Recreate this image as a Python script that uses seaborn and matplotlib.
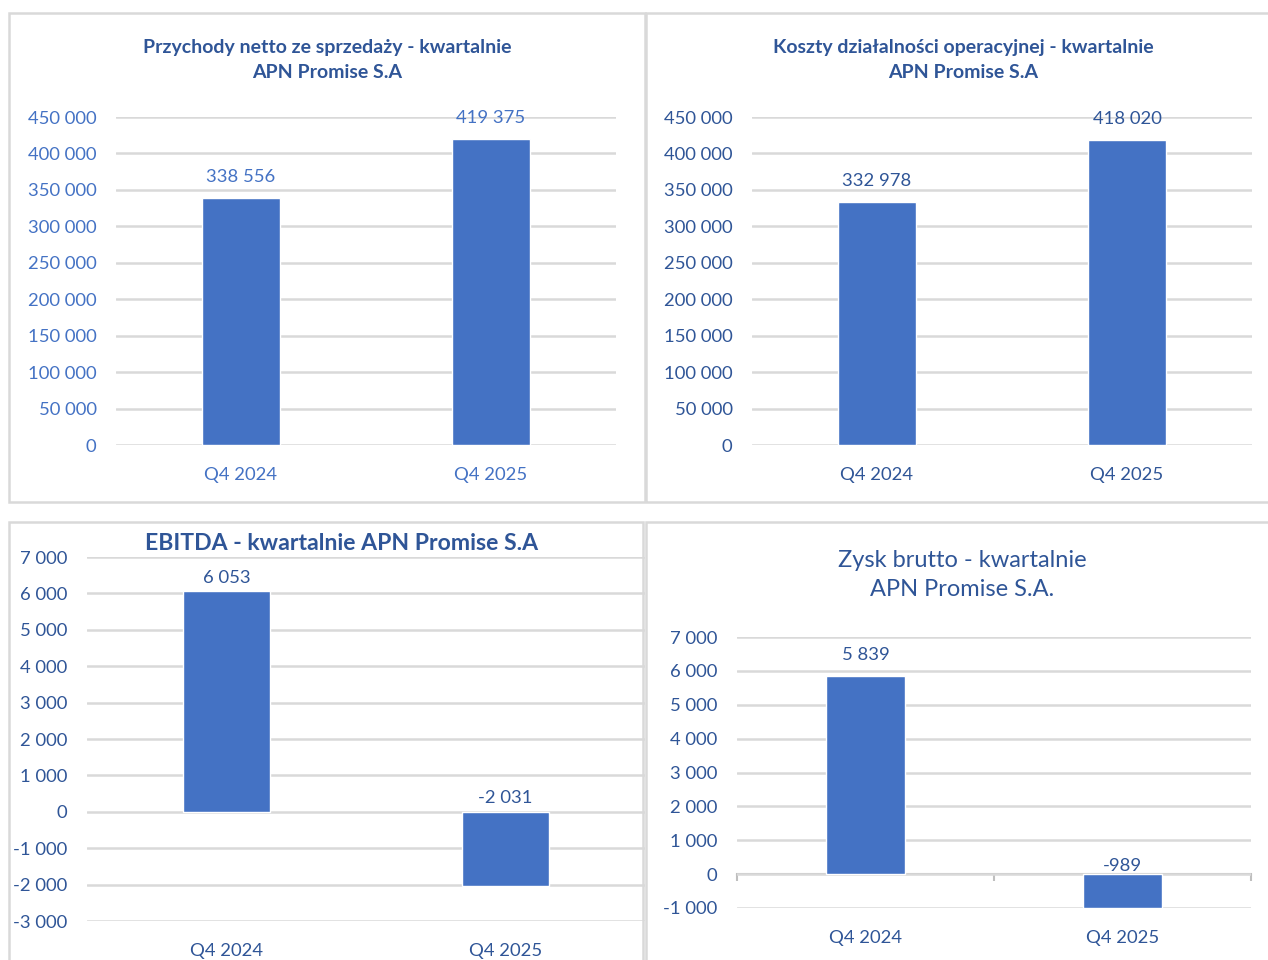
import matplotlib.pyplot as plt
import pandas as pd
import seaborn as sns
from matplotlib.patches import Rectangle
from matplotlib.ticker import FuncFormatter, MultipleLocator

# dane
quarters = ["Q4 2024", "Q4 2025"]
przychody = [338556, 419375]
koszty = [332978, 418020]
ebitda = [6053, -2031]
zysk_brutto = [5839, -989]

W, H = 1268, 960
BAR = "#4472C4"
DARK = "#2F5597"
GRID = "#D9D9D9"

sns.set_theme(style="white")
plt.rcParams["font.family"] = ["Lato", "DejaVu Sans"]

fig = plt.figure(figsize=(W / 100, H / 100), dpi=100)


def px_axes(x0, x1, y_top, y_bot):
    return fig.add_axes([x0 / W, 1 - y_bot / H, (x1 - x0) / W, (y_bot - y_top) / H])


def fmt(v):
    return f"{v:,.0f}".replace(",", " ")


def panel(x0, y0, x1, y1):
    fig.patches.append(Rectangle((x0 / W, 1 - y1 / H), (x1 - x0) / W, (y1 - y0) / H,
                                 transform=fig.transFigure, fill=False,
                                 edgecolor=GRID, linewidth=1.8))


def draw(ax, values, ylim, step, tick_color, label_color, off_pos, off_neg):
    df = pd.DataFrame({"kwartal": quarters, "wartosc": values})
    sns.barplot(data=df, x="kwartal", y="wartosc", color=BAR, width=0.31,
                saturation=1, ax=ax, zorder=3)
    ax.set_xlim(-0.5, 1.5)
    ax.set_ylim(*ylim)
    ax.yaxis.set_major_locator(MultipleLocator(step))
    ax.yaxis.set_major_formatter(FuncFormatter(lambda v, p: fmt(v)))
    ax.grid(axis="y", color=GRID, linewidth=1.8, zorder=0)
    ax.set_axisbelow(True)
    for s in ax.spines.values():
        s.set_visible(False)
    ax.set_xlabel("")
    ax.set_ylabel("")
    ax.tick_params(axis="both", length=0, labelsize=13.3, labelcolor=tick_color)
    ax.tick_params(axis="y", pad=14)
    ax.tick_params(axis="x", pad=16)
    for i, v in enumerate(values):
        off = off_pos if v >= 0 else off_neg
        ax.annotate(fmt(v), (i, max(v, 0)), xytext=(0, off), textcoords="offset points",
                    ha="center", va="center", fontsize=13.3, color=label_color)


# panele
panel(9, 13, 645, 502)
panel(646, 13, 1275, 502)
panel(9, 522, 643, 970)
panel(646, 522, 1275, 970)

ax1 = px_axes(116, 616, 117, 445)
draw(ax1, przychody, (0, 450000), 50000, BAR, BAR, 15, 15)
fig.text(327 / W, 1 - 60 / H, "Przychody netto ze sprzedaży - kwartalnie\nAPN Promise S.A",
         ha="center", va="center", fontsize=14, fontweight="bold", color=DARK,
         linespacing=1.5)

ax2 = px_axes(752, 1252, 117, 445)
draw(ax2, koszty, (0, 450000), 50000, DARK, DARK, 15, 15)
fig.text(963 / W, 1 - 60 / H, "Koszty działalności operacyjnej - kwartalnie\nAPN Promise S.A",
         ha="center", va="center", fontsize=14, fontweight="bold", color=DARK,
         linespacing=1.5)

ax3 = px_axes(87, 645, 557, 921)
draw(ax3, ebitda, (-3000, 7000), 1000, DARK, DARK, 10, 10)
fig.text(342 / W, 1 - 543 / H, "EBITDA - kwartalnie APN Promise S.A",
         ha="center", va="center", fontsize=16.6, fontweight="bold", color=DARK)

ax4 = px_axes(737, 1251, 637, 908)
draw(ax4, zysk_brutto, (-1000, 7000), 1000, DARK, DARK, 15, 6)
fig.text(962 / W, 1 - 575 / H, "Zysk brutto - kwartalnie\nAPN Promise S.A.",
         ha="center", va="center", fontsize=17, color=DARK, linespacing=1.45)
# oś kategorii na poziomie zera
sec = ax4.secondary_xaxis(1000 / 8000)
sec.set_xticks([-0.5, 0.5, 1.5])
sec.set_xticklabels([])
sec.spines["bottom"].set_color("#BFBFBF")
sec.spines["bottom"].set_linewidth(1.5)
sec.tick_params(axis="x", direction="out", length=5, width=1.5, color="#BFBFBF")

fig.savefig("out.png", dpi=100, facecolor="white")
